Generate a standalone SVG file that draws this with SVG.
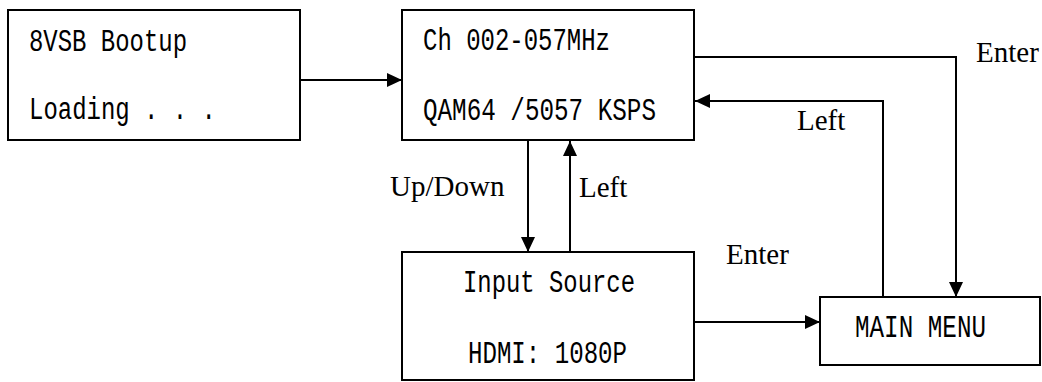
<svg xmlns="http://www.w3.org/2000/svg" width="1042" height="382" viewBox="0 0 1042 382">
<style>
.box{fill:#fff;stroke:#000;stroke-width:2}
.mono{font-family:"Liberation Mono","DejaVu Sans Mono",monospace;font-size:31px;fill:#000;white-space:pre}
.lbl{font-family:"Liberation Serif","Times New Roman",serif;font-size:29px;fill:#000}
.con{fill:none;stroke:#000;stroke-width:2}
</style>
<defs>
<marker id="ah" viewBox="0 0 15 14" refX="15" refY="7" markerWidth="15" markerHeight="14" markerUnits="userSpaceOnUse" orient="auto">
<path d="M0,0 L15,7 L0,14 Z" fill="#000"/>
</marker>
</defs>
<rect width="1042" height="382" fill="#fff"/>
<g id="connectors">
<line class="con" x1="301" y1="80" x2="402" y2="80" marker-end="url(#ah)"/>
<polyline class="con" points="695,57 956,57 956,297" marker-end="url(#ah)"/>
<polyline class="con" points="883,297 883,101 695,101" marker-end="url(#ah)"/>
<line class="con" x1="528" y1="141" x2="528" y2="252" marker-end="url(#ah)"/>
<line class="con" x1="570" y1="252" x2="570" y2="141" marker-end="url(#ah)"/>
<line class="con" x1="695" y1="322" x2="820" y2="322" marker-end="url(#ah)"/>
<text class="lbl" x="390" y="196">Up/Down</text>
<text class="lbl" x="579" y="197">Left</text>
<text class="lbl" x="797" y="130">Left</text>
<text class="lbl" x="976" y="62">Enter</text>
<text class="lbl" x="726" y="264">Enter</text>
</g>
<g id="bootup">
<rect class="box" x="8" y="10" width="292" height="130"/>
<text class="mono" x="29" y="51" textLength="158" lengthAdjust="spacingAndGlyphs">8VSB Bootup</text>
<text class="mono" x="29" y="119" textLength="187" lengthAdjust="spacingAndGlyphs">Loading . . .</text>
</g>
<g id="channel">
<rect class="box" x="402" y="10" width="292" height="130"/>
<text class="mono" x="423" y="50" textLength="187" lengthAdjust="spacingAndGlyphs">Ch 002-057MHz</text>
<text class="mono" x="423" y="120" textLength="233" lengthAdjust="spacingAndGlyphs">QAM64 /5057 KSPS</text>
</g>
<g id="input">
<rect class="box" x="402" y="252" width="292" height="128"/>
<text class="mono" x="463" y="292" textLength="172" lengthAdjust="spacingAndGlyphs">Input Source</text>
<text class="mono" x="468" y="363" textLength="159" lengthAdjust="spacingAndGlyphs">HDMI: 1080P</text>
</g>
<g id="mainmenu">
<rect class="box" x="820" y="297" width="220" height="68"/>
<text class="mono" x="855" y="337" textLength="131" lengthAdjust="spacingAndGlyphs">MAIN MENU</text>
</g>
</svg>
